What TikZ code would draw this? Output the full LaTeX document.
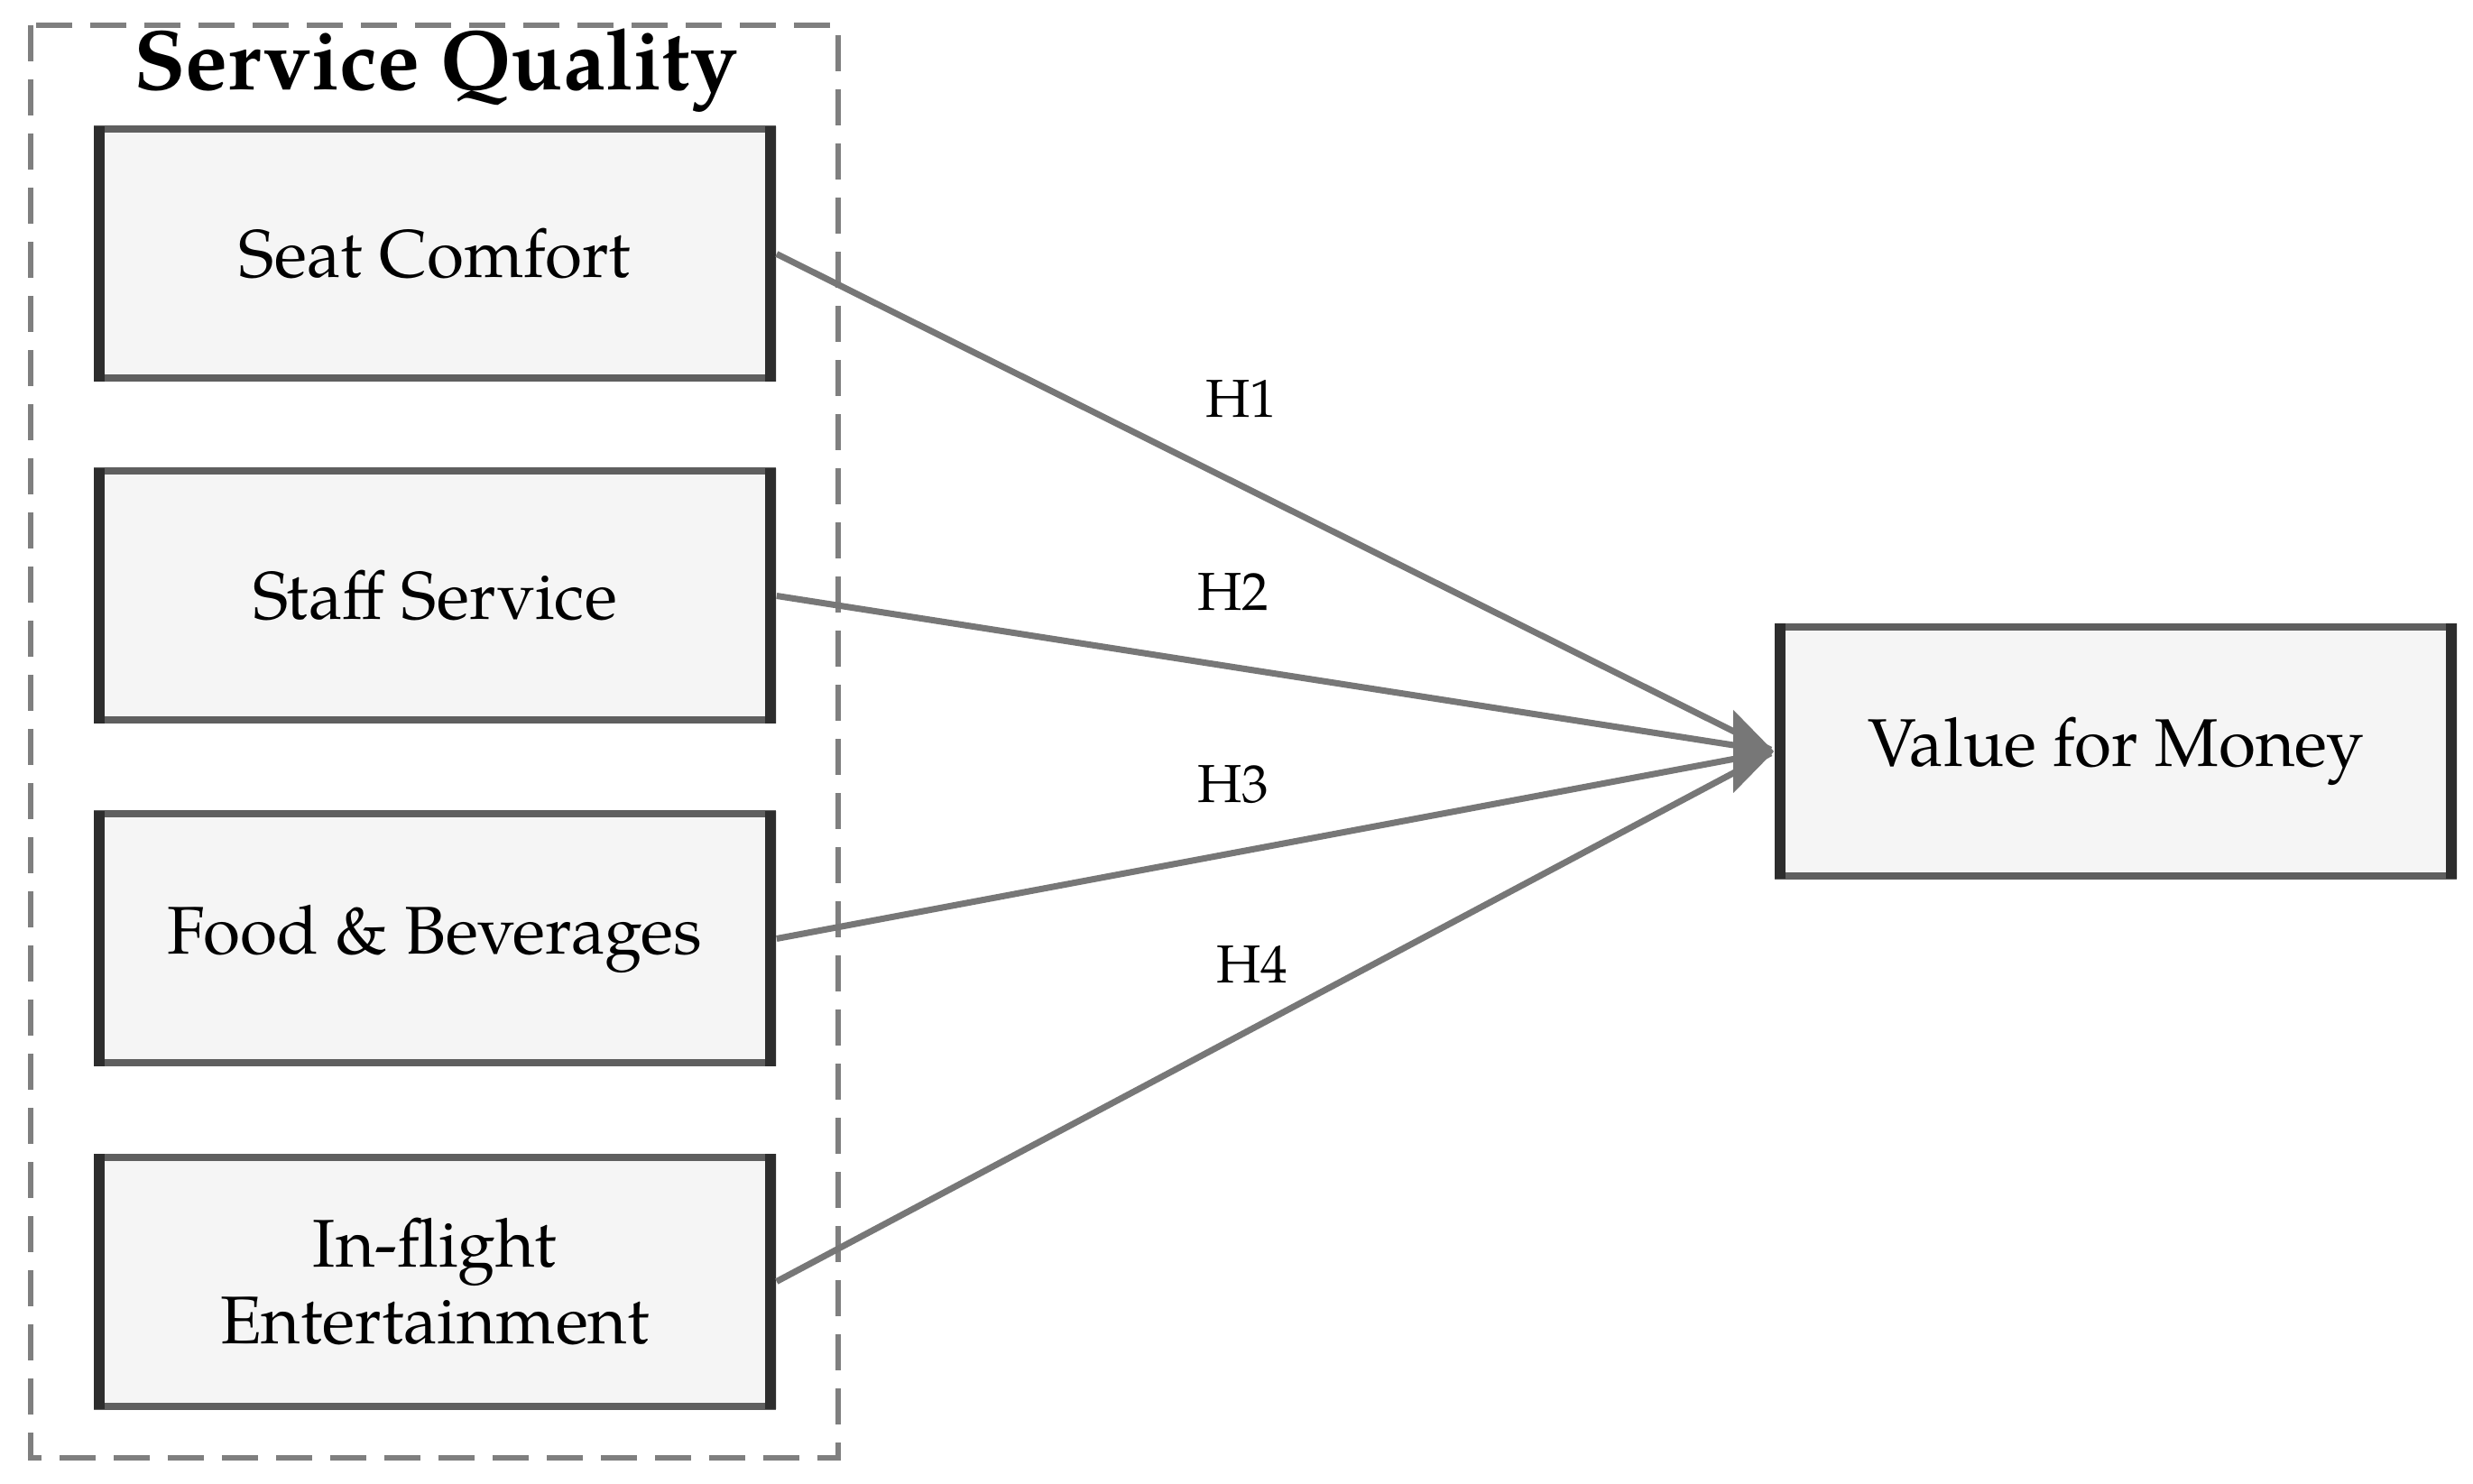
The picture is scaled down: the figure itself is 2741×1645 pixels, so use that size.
\documentclass[tikz,border=0pt]{standalone}
\usepackage{fontspec}
\setmainfont{TeX Gyre Pagella}
\usetikzlibrary{arrows.meta}
\definecolor{boxfill}{HTML}{F5F5F5}
\definecolor{edgetop}{HTML}{5F5F5F}
\definecolor{edgeside}{HTML}{2D2D2D}
\definecolor{linkc}{HTML}{777777}
\definecolor{dashc}{HTML}{7F7F7F}
\newcommand{\boxfont}{\fontsize{18.7}{21.25}\selectfont}
\newcommand{\titlefont}{\fontsize{23.5}{27}\selectfont\bfseries}
\newcommand{\hfont}{\fontsize{14.8}{17}\selectfont}
\tikzset{
  factor/.style={minimum width=189pt, minimum height=70.75pt, inner sep=0pt,
    fill=boxfill, align=center, font=\boxfont, text=black,
    path picture={
      \draw[line width=3.75pt, draw=edgetop] (path picture bounding box.north west) -- (path picture bounding box.north east);
      \draw[line width=3.75pt, draw=edgetop] (path picture bounding box.south west) -- (path picture bounding box.south east);
      \draw[line width=6pt, draw=edgeside] (path picture bounding box.north west) -- (path picture bounding box.south west);
      \draw[line width=6pt, draw=edgeside] (path picture bounding box.north east) -- (path picture bounding box.south east);
    }},
  link/.style={draw=linkc, line width=1.75pt, shorten >=1pt},
  headc/.style={fill=linkc},
  hyp/.style={font=\hfont, inner sep=0pt, anchor=base},
  group/.style={draw=dashc, line width=1.5pt, dash pattern=on 10pt off 5pt}
}
\begin{document}
\begin{tikzpicture}[x=0.25pt,y=-0.25pt]
\useasboundingbox (0,0) rectangle (2741,1645);
\fill[white] (0,0) rectangle (2741,1645);
\draw[group] (34,28) rectangle (929,1616);
\node[font=\titlefont, inner sep=0pt, anchor=base] (title) at (483,100) {Service Quality};
\node[factor] (sc) at (482,281.5) {Seat Comfort};
\node[factor] (ss) at (482,660.5) {Staff Service};
\node[factor] (fb) at (482,1040.5) {Food \& Beverages};
\node[factor] (ie) at (482,1420.5) {In-flight\\Entertainment};
\node[factor] (vm) at (2345,833) {Value for Money};
\draw[link] (sc.east) -- (vm.west);
\draw[link] (ss.east) -- (vm.west);
\draw[link] (fb.east) -- (vm.west);
\draw[link] (ie.east) -- (vm.west);
\fill[headc] (vm.west) -- ++(-45,-46) -- ++(0,92) -- cycle;
\node[hyp] (h1) at (1376,463) {H1};
\node[hyp] (h2) at (1367,677) {H2};
\node[hyp] (h3) at (1367,890) {H3};
\node[hyp] (h4) at (1388,1090) {H4};
\end{tikzpicture}
\end{document}
